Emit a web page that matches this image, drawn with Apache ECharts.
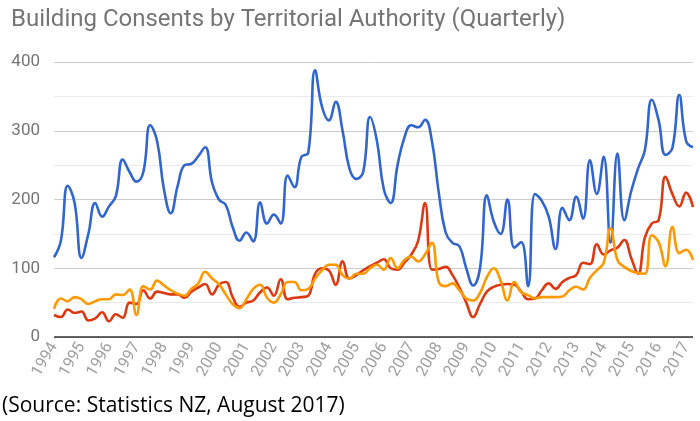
<!DOCTYPE html>
<html>
<head>
<meta charset="utf-8">
<script src="https://cdn.jsdelivr.net/npm/echarts@6/dist/echarts.min.js"></script>
<style>
  html, body { margin: 0; padding: 0; background: #fff; }
  #chart { width: 700px; height: 421px; }
</style>
</head>
<body>
<div id="chart"></div>
<script>
const years = ['1994', '1995', '1996', '1997', '1998', '1999', '2000', '2001', '2002', '2003', '2004', '2005',
    '2006', '2007', '2008', '2009', '2010', '2011', '2012', '2013', '2014', '2015', '2016', '2017'];

// quarterly values, 1994 Q1 .. 2017 Q2
const blueVals = [116, 140, 220, 195, 115, 150, 195, 175, 190, 205, 258, 240, 226, 240, 308, 285,
    215, 180, 220, 250, 252, 263, 276, 225, 200, 192, 160, 140, 152, 139, 196, 165,
    178, 165, 235, 218, 262, 268, 388, 335, 315, 342, 300, 245, 230, 240, 320, 285,
    215, 195, 250, 290, 308, 305, 316, 285, 210, 152, 137, 132, 100, 75, 100, 206,
    168, 150, 200, 130, 138, 74, 208, 198, 175, 128, 188, 170, 204, 172, 257, 208,
    262, 137, 267, 170, 212, 245, 272, 345, 315, 265, 275, 352, 285, 276];
const redVals = [32, 29, 40, 35, 37, 24, 27, 36, 23, 33, 28, 50, 48, 68, 56, 66,
    64, 62, 62, 57, 66, 72, 77, 62, 76, 80, 58, 44, 50, 53, 65, 72,
    60, 84, 55, 57, 58, 60, 92, 100, 97, 76, 110, 85, 90, 97, 103, 108,
    113, 100, 98, 108, 120, 140, 195, 98, 99, 102, 90, 72, 50, 29, 48, 66,
    73, 76, 77, 76, 66, 55, 56, 68, 78, 70, 80, 86, 90, 108, 106, 135,
    120, 126, 130, 141, 115, 92, 145, 165, 170, 233, 208, 190, 210, 189];
const orangeVals = [41, 56, 52, 58, 55, 48, 52, 55, 55, 62, 61, 69, 32, 74, 69, 82,
    75, 68, 63, 60, 70, 78, 95, 85, 77, 62, 48, 42, 55, 70, 76, 57,
    50, 62, 80, 80, 68, 70, 85, 97, 105, 105, 90, 85, 92, 92, 100, 105,
    98, 115, 100, 112, 117, 110, 120, 137, 80, 74, 78, 68, 56, 53, 64, 87,
    100, 82, 53, 80, 65, 61, 56, 58, 58, 58, 59, 68, 73, 69, 86, 97,
    108, 158, 112, 102, 96, 93, 92, 148, 138, 103, 160, 122, 127, 112];

const quarters = [];
years.forEach((y) => {
    for (let q = 1; q <= 4; q++) quarters.push(y + ' Q' + q);
});
const categories = quarters.slice(0, blueVals.length);

const chart = echarts.init(document.getElementById('chart'), null, { renderer: 'canvas' });

function lineSeries(name, data, color) {
    return {
        name: name,
        type: 'line',
        data: data,
        smooth: 0.45,
        showSymbol: false,
        lineStyle: { color: color, width: 2.6 },
        itemStyle: { color: color },
        animation: false
    };
}

chart.setOption({
    animation: false,
    title: {
        text: 'Building Consents by Territorial Authority (Quarterly)',
        left: 6,
        top: 3,
        textStyle: { fontFamily: 'Roboto', fontSize: 24, fontWeight: 'normal', color: '#757575' }
    },
    grid: { left: 54, right: 7, top: 62, bottom: 84 },
    xAxis: {
        type: 'category',
        data: categories,
        boundaryGap: false,
        axisLine: { show: false },
        axisTick: { show: false },
        splitLine: { show: false },
        axisLabel: {
            interval: 3,
            rotate: 60,
            margin: 7,
            fontFamily: 'Roboto',
            fontSize: 16,
            color: '#a0a0a0',
            formatter: (v) => v.slice(0, 4)
        }
    },
    yAxis: {
        type: 'value',
        min: 0,
        max: 400,
        interval: 100,
        axisLine: { show: false },
        axisTick: { show: false },
        axisLabel: { fontFamily: 'Roboto', fontSize: 17, color: '#757575', margin: 14 },
        splitLine: { lineStyle: { color: '#cccccc', width: 1 } },
        minorTick: { show: false, splitNumber: 2 },
        minorSplitLine: { show: true, lineStyle: { color: '#ebebeb', width: 1 } }
    },
    series: [
        lineSeries('A', blueVals, '#3366cc'),
        lineSeries('B', redVals, '#dc3912'),
        lineSeries('C', orangeVals, '#ff9900'),
        {
            type: 'line',
            data: [],
            markLine: {
                silent: true,
                symbol: 'none',
                label: { show: false },
                lineStyle: { color: '#333333', width: 1.5, type: 'solid' },
                data: [{ yAxis: 0 }]
            }
        }
    ],
    graphic: [{
        type: 'text',
        left: 2,
        top: 396,
        style: {
            text: '(Source: Statistics NZ, August 2017)',
            font: '21px "Open Sans"',
            fill: '#000'
        }
    }]
});
</script>
</body>
</html>
